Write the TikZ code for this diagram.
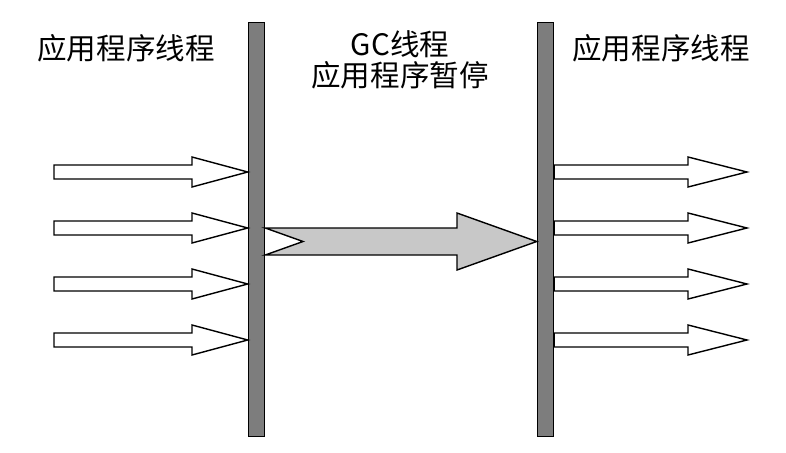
\documentclass[tikz,border=0pt]{standalone}
\usepackage{fontspec}
\newfontfamily\cjk{Noto Sans CJK SC}
\usetikzlibrary{calc}
\definecolor{bargray}{RGB}{125,125,125}
\definecolor{pausegray}{RGB}{200,200,200}

\begin{document}
\begin{tikzpicture}[x=0.025cm,y=-0.025cm,line join=miter,
  bar/.style={draw,fill=bargray,line width=1.1pt,minimum width=0.4cm,minimum height=10.35cm,inner sep=0pt},
  hollow/.style={draw,fill=white,line width=1pt},
  title/.style={font=\cjk\fontsize{21}{25}\selectfont,inner sep=0pt}]
\useasboundingbox (0,0) rectangle (786,452);
% the two safe points
\node[bar] (lbar) at (256.5,229.5) {};
\node[bar] (rbar) at (545.5,229.5) {};
\node[title] (ltitle) at (126,48) {应用程序线程};
\node[title] (rtitle) at (661,48) {应用程序线程};
\node[title] (gc) at (400,44) {GC线程};
\node[title] (pause) at (400,75) {应用程序暂停};
% threads running up to the pause
\foreach \y in {172,228,284,340} {
  \coordinate (in) at (54,\y);
  \draw[hollow] ($(in)+(0,-7)$) -- (192,\y-7) -- (192,\y-15) -- (lbar.west |- in)
    -- (192,\y+15) -- (192,\y+7) -- ($(in)+(0,7)$) -- cycle;
}
% GC runs alone
\draw[hollow,fill=pausegray] (lbar.east |- 0,228) -- (457,228) -- (457,213) -- (rbar.west |- 0,241.5)
  -- (457,270) -- (457,255) -- (lbar.east |- 0,255) -- (303,241.5) -- cycle;
% threads resume
\foreach \y in {172,228,284,340} {
  \coordinate (out) at (747,\y);
  \draw[hollow] (rbar.east |- 0,\y-7) -- (688,\y-7) -- (688,\y-15) -- (out)
    -- (688,\y+15) -- (688,\y+7) -- (rbar.east |- 0,\y+7) -- cycle;
}
\end{tikzpicture}
\end{document}
